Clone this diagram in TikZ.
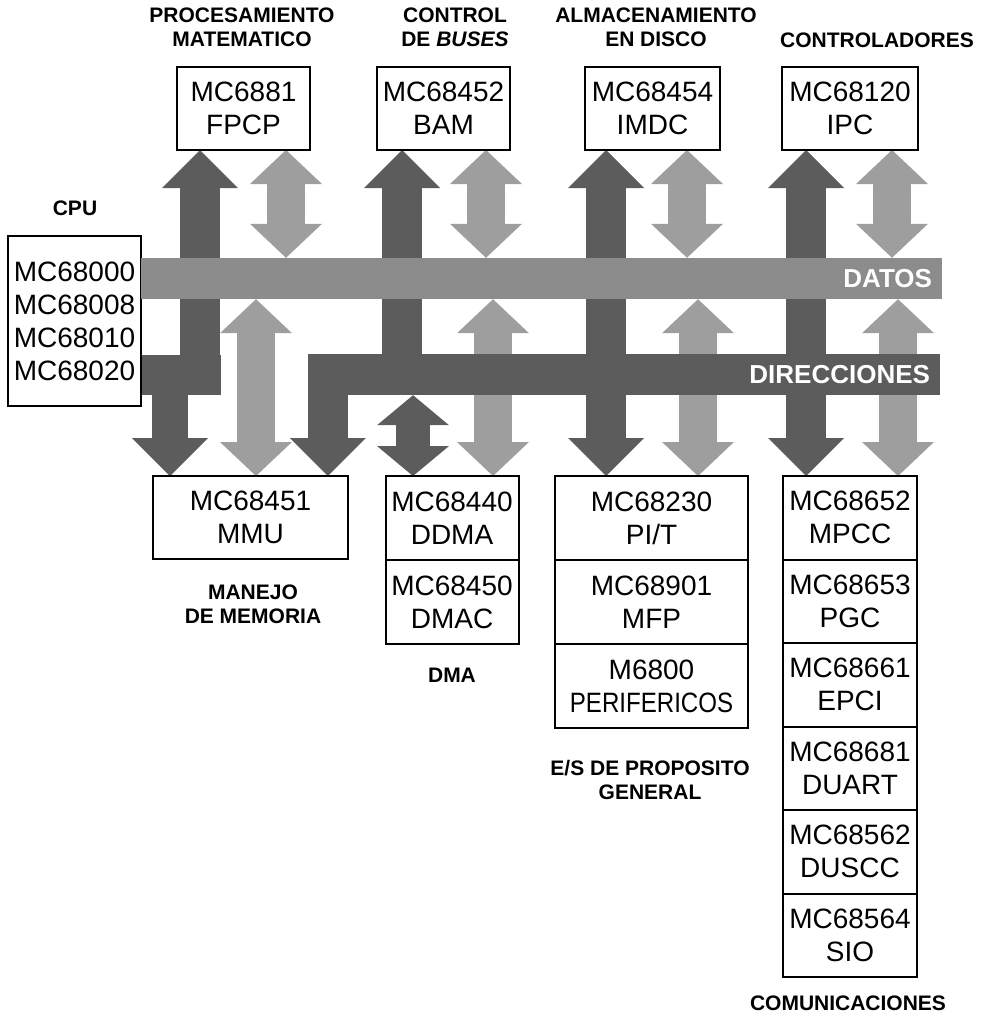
\documentclass[tikz,border=0pt]{standalone}
\usepackage{fontspec}
\setmainfont{Liberation Sans}
\usetikzlibrary{positioning,backgrounds,arrows.meta}
\definecolor{dirgray}{gray}{0.36}
\definecolor{datgray}{gray}{0.55}
\definecolor{arrgray}{gray}{0.62}
\tikzset{
  addrtip/.tip={Triangle[width=76pt,length=38pt,line width=0pt]},
  dmatip/.tip={Triangle[width=72pt,length=30pt,line width=0pt]},
  datatip/.tip={Triangle[width=72pt,length=34pt,line width=0pt]}
}

\begin{document}
\begin{tikzpicture}[x=1pt, y=-1pt,
    chip/.style={draw=black, line width=2pt, fill=white, minimum width=133pt,
      minimum height=83pt, align=center, inner sep=0pt, outer sep=0pt,
      font=\fontsize{28}{33}\selectfont},
    grp/.style={align=center, font=\fontsize{21}{24}\selectfont\bfseries},
    bus/.style={minimum height=41pt, inner xsep=10pt, inner ysep=0pt,
      align=right, text=white, font=\fontsize{26}{28}\selectfont\bfseries},
    addr/.style={draw=dirgray, line width=40pt},
    data/.style={draw=arrgray, line width=38pt, {datatip}-{datatip}}
  ]
    \useasboundingbox (0,0) rectangle (981,1020);
    % group titles
    \node[grp] (lproc) at (242,27.5) {PROCESAMIENTO\\MATEMATICO};
    \node[grp] (lbus) at (455,27.5) {CONTROL\\DE \textit{BUSES}};
    \node[grp] (ldisk) at (656,27.5) {ALMACENAMIENTO\\EN DISCO};
    \node[grp] (lctrl) at (877,40) {CONTROLADORES};
    \node[grp] (lcpu) at (75,208) {CPU};
    \node[grp] (lmem) at (253,604) {MANEJO\\DE MEMORIA};
    \node[grp] (ldma) at (452,675) {DMA};
    \node[grp] (lio) at (650,779.5) {E/S DE PROPOSITO\\GENERAL};
    \node[grp] (lcom) at (848,1003) {COMUNICACIONES};
    % top chips
    \node[chip] (fpcp) at (243.5,108.5) {MC6881\\FPCP};
    \node[chip] (bam) at (443.5,108.5) {MC68452\\BAM};
    \node[chip, minimum width=135pt] (imdc) at (652.5,108.5) {MC68454\\IMDC};
    \node[chip, minimum width=136pt] (ipc) at (850,108.5) {MC68120\\IPC};
    \node[chip, minimum height=170pt] (cpu) at (74.5,321)
      {MC68000\\MC68008\\MC68010\\MC68020};
    % buses
    \node[bus, fill=datgray, text width=781pt] (datos) at (541.5,278.5) {DATOS};
    \node[bus, fill=dirgray, text width=612pt] (dir) at (624,374.5) {DIRECCIONES};
    % bottom chips
    \node[chip, minimum width=195pt] (mmu) at (250.5,517.5) {MC68451\\MMU};
    \node[chip, minimum height=84pt] (ddma) at (452,518) {MC68440\\DDMA};
    \node[chip, minimum height=84pt, below=0pt of ddma] (dmac) {MC68450\\DMAC};
    \node[chip, minimum width=193pt, minimum height=84pt] (pit) at (651.5,518)
      {MC68230\\PI/T};
    \node[chip, minimum width=193pt, minimum height=84pt, below=0pt of pit] (mfp)
      {MC68901\\MFP};
    \node[chip, minimum width=193pt, minimum height=84pt, below=0pt of mfp] (perif)
      {M6800\\\scalebox{0.86}[1]{PERIFERICOS}};
    \node[chip, minimum width=134pt, minimum height=83.5pt] (mpcc) at (850,517.75)
      {MC68652\\MPCC};
    \node[chip, minimum width=134pt, minimum height=83.5pt, below=0pt of mpcc] (pgc)
      {MC68653\\PGC};
    \node[chip, minimum width=134pt, minimum height=83.5pt, below=0pt of pgc] (epci)
      {MC68661\\EPCI};
    \node[chip, minimum width=134pt, minimum height=83.5pt, below=0pt of epci] (duart)
      {MC68681\\DUART};
    \node[chip, minimum width=134pt, minimum height=83.5pt, below=0pt of duart] (duscc)
      {MC68562\\DUSCC};
    \node[chip, minimum width=134pt, minimum height=83.5pt, below=0pt of duscc] (sio)
      {MC68564\\SIO};
    \begin{scope}[on background layer]
      % address paths
      \coordinate (jfp) at ([xshift=-43.5pt]fpcp.south);
      \coordinate (jmmu) at ([xshift=-80.5pt]mmu.north);
      \coordinate (jphys) at ([xshift=20pt]dir.south west);
      \coordinate (jbam) at ([xshift=-41.5pt]bam.south);
      \coordinate (jdma) at ([xshift=-39pt]ddma.north);
      \coordinate (jdisk) at ([xshift=-46.5pt]imdc.south);
      \coordinate (jctl) at ([xshift=-44pt]ipc.south);
      \draw[addr] (cpu.east |- dir.center) -- ++(80,0);
      \draw[addr, -{addrtip}] (jfp |- dir.south) -- (jfp);
      \draw[addr, line width=36pt, -{addrtip}] (jmmu |- dir.center) -- (jmmu);
      \draw[addr, -{addrtip}] (jphys |- dir.center) -- (jphys |- mmu.north);
      \draw[addr, -{addrtip}] (jbam |- dir.center) -- (jbam);
      \draw[addr, line width=34pt, {dmatip}-{dmatip}] (jdma |- dir.south) -- (jdma);
      \draw[addr, {addrtip}-{addrtip}] (jdisk) -- (jdisk |- pit.north);
      \draw[addr, {addrtip}-{addrtip}] (jctl) -- (jctl |- mpcc.north);
      % data paths
      \coordinate (dfp) at ([xshift=42.5pt]fpcp.south);
      \coordinate (dbam) at ([xshift=42.5pt]bam.south);
      \coordinate (ddisk) at ([xshift=34.5pt]imdc.south);
      \coordinate (dctl) at ([xshift=42pt]ipc.south);
      \coordinate (dmmu) at ([xshift=5.5pt]mmu.north);
      \coordinate (ddm) at ([xshift=41pt]ddma.north);
      \coordinate (dio) at ([xshift=46.5pt]pit.north);
      \coordinate (dcom) at ([xshift=48pt]mpcc.north);
      \draw[data] (dfp) -- (dfp |- datos.north);
      \draw[data] (dbam) -- (dbam |- datos.north);
      \draw[data] (ddisk) -- (ddisk |- datos.north);
      \draw[data] (dctl) -- (dctl |- datos.north);
      \draw[data] (dmmu |- datos.south) -- (dmmu);
      \draw[data] (ddm |- datos.south) -- (ddm);
      \draw[data] (dio |- datos.south) -- (dio);
      \draw[data] (dcom |- datos.south) -- (dcom);
    \end{scope}
  \end{tikzpicture}
\end{document}
